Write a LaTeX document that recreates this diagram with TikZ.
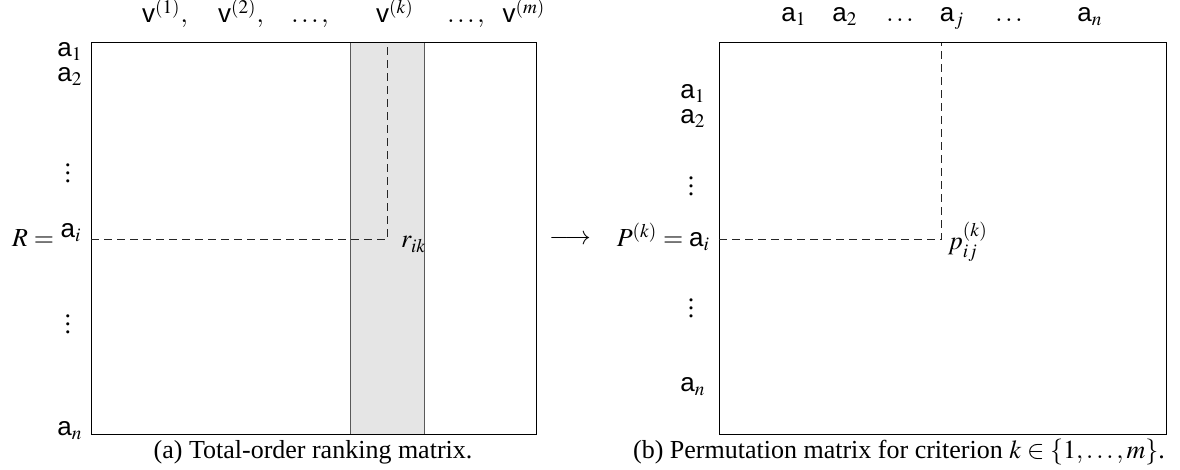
\documentclass[tikz,border=0pt]{standalone}
\usepackage{mathptmx}
\usepackage{fontspec}
\setmainfont{Liberation Serif}
\setsansfont{Liberation Sans}
\newcommand{\sfl}[1]{\mbox{\sffamily #1}}
\tikzset{
  lbl/.style={anchor=base, inner sep=0pt, outer sep=0pt},
  dotsnode/.style={inner sep=0pt, outer sep=0pt},
  frame/.style={draw=black, line width=0.5pt},
  band/.style={draw=black!65, line width=0.5pt},
  guide/.style={draw=black!85, line width=0.5pt, dash pattern=on 4pt off 2.5pt},
}
\begin{document}
\begin{tikzpicture}[x=0.5pt,y=-0.5pt,font=\fontsize{13}{15.6}\selectfont]
\useasboundingbox (0,0) rectangle (1180,470);
% ---- left matrix
\fill[gray!20] (350,43) rectangle (424,435);
\draw[band] (350,43) -- (350,435) (424,43) -- (424,435);
\draw[frame] (91,43) rectangle (536,435);
\coordinate (Li) at (91,240);
\coordinate (Lc) at (387,240);
\coordinate (Lt) at (387,43);
\draw[guide] (Li) -- (Lc) -- (Lt);
\node[lbl] (v1) at (165,23) {$\sfl{v}^{(1)},$};
\node[lbl] (v2) at (241,23) {$\sfl{v}^{(2)},$};
\node[lbl] (vd1) at (310,23) {$\ldots,$};
\node[lbl] (vk) at (395,23) {$\sfl{v}^{(k)}$};
\node[lbl] (vd2) at (466,23) {$\ldots,$};
\node[lbl] (vm) at (524,23) {$\sfl{v}^{(m)}$};
\node[lbl] (la1) at (70,57) {$\sfl{a}_1$};
\node[lbl] (la2) at (70,82) {$\sfl{a}_2$};
\node[dotsnode] (lvd1) at (68,167) {$\vdots$};
\node[lbl] (lai) at (71,238) {$\sfl{a}_i$};
\node[lbl, anchor=base east] (R) at (54,247) {$R=$};
\node[dotsnode] (lvd2) at (68,318) {$\vdots$};
\node[lbl] (lan) at (70,436) {$\sfl{a}_n$};
\node[lbl, anchor=base west] (rik) at (401,248) {$r_{ik}$};
\node[lbl] (cap1) at (313,459) {(a) Total-order ranking matrix.};
% ---- arrow
\node (arr) at (570,240) {$\longrightarrow$};
% ---- right matrix
\draw[frame] (719,43) rectangle (1166,435);
\coordinate (Ri) at (719,240);
\coordinate (Rc) at (941,240);
\coordinate (Rt) at (941,43);
\draw[guide] (Ri) -- (Rc) -- (Rt);
\node[lbl] (ta1) at (794,22) {$\sfl{a}_1$};
\node[lbl] (ta2) at (845,22) {$\sfl{a}_2$};
\node[lbl] (td1) at (900,22) {$\ldots$};
\node[lbl] (taj) at (952,22) {$\sfl{a}_j$};
\node[lbl] (td2) at (1009,22) {$\ldots$};
\node[lbl] (tan) at (1090,22) {$\sfl{a}_n$};
\node[lbl] (ra1) at (693,99) {$\sfl{a}_1$};
\node[lbl] (ra2) at (693,124) {$\sfl{a}_2$};
\node[dotsnode] (rvd1) at (691,180) {$\vdots$};
\node[lbl, anchor=base east] (P) at (710,247) {$P^{(k)}=\sfl{a}_i$};
\node[dotsnode] (rvd2) at (691,302) {$\vdots$};
\node[lbl] (ran) at (693,392) {$\sfl{a}_n$};
\node[lbl, anchor=base west] (pij) at (948,250) {$p_{ij}^{(k)}$};
\node[lbl] (cap2) at (899,459) {(b) Permutation matrix for criterion $k\in\{1,\ldots,m\}$.};
\end{tikzpicture}
\end{document}
